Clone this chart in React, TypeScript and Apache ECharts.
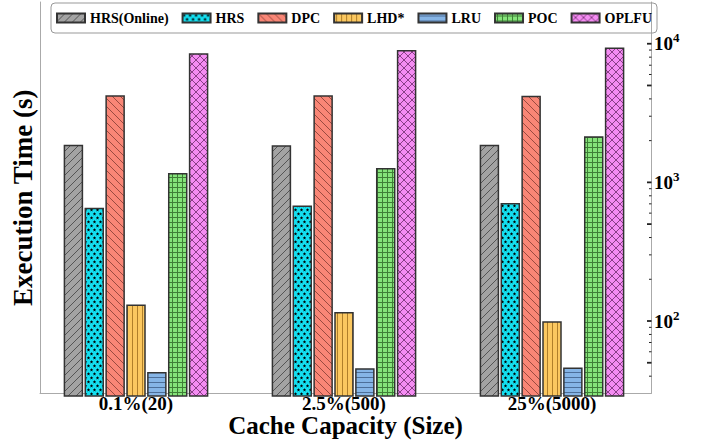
import React, { useEffect, useRef } from 'react';
import * as echarts from 'echarts';

const categories = ['0.1%(20)', '2.5%(500)', '25%(5000)'];
const seriesNames = ['HRS(Online)', 'HRS', 'DPC', 'LHD*', 'LRU', 'POC', 'OPLFU'];
const hrsOnline = [1900, 1880, 1900];
const hrs = [670, 695, 725];
const dpc = [4300, 4300, 4250];
const lhd = [136, 120, 103];
const lru = [44.5, 47.5, 48];
const poc = [1190, 1290, 2180];
const oplfu = [8600, 9050, 9450];
const yMin = 30;
const yMax = 20000;
const majorTicks = [100, 1000, 10000];
const minorTicks = [40, 50, 60, 70, 80, 90, 200, 300, 400, 500, 600, 700, 800, 900, 2000, 3000, 4000, 5000, 6000, 7000, 8000, 9000];

const FONT = '"Liberation Serif", "Times New Roman", serif';

type Draw = (ctx: CanvasRenderingContext2D, w: number, h: number) => void;

function makeTile(w: number, h: number, bg: string, draw: Draw) {
  const c = document.createElement('canvas');
  c.width = w;
  c.height = h;
  const ctx = c.getContext('2d') as CanvasRenderingContext2D;
  ctx.fillStyle = bg;
  ctx.fillRect(0, 0, w, h);
  draw(ctx, w, h);
  return { image: c.toDataURL(), repeat: 'repeat', imageWidth: w, imageHeight: h };
}

function lines(color: string, segs: number[][], lw = 1): Draw {
  return (ctx) => {
    ctx.strokeStyle = color;
    ctx.lineWidth = lw;
    ctx.beginPath();
    segs.forEach(([x1, y1, x2, y2]) => {
      ctx.moveTo(x1, y1);
      ctx.lineTo(x2, y2);
    });
    ctx.stroke();
  };
}

function starAt(ctx: CanvasRenderingContext2D, cx: number, cy: number, R: number, r: number) {
  ctx.beginPath();
  for (let i = 0; i < 10; i++) {
    const ang = -Math.PI / 2 + (i * Math.PI) / 5;
    const rad = i % 2 === 0 ? R : r;
    const x = cx + rad * Math.cos(ang);
    const y = cy + rad * Math.sin(ang);
    if (i === 0) ctx.moveTo(x, y);
    else ctx.lineTo(x, y);
  }
  ctx.closePath();
  ctx.fill();
}

function buildPatterns() {
  const s = 8;
  const slash = [[-s, s, 0, 0], [0, s, s, 0], [s, s, 2 * s, 0]];
  const back = [[-s, 0, 0, s], [0, 0, s, s], [s, 0, 2 * s, s]];
  return [
    makeTile(s, s, '#a3a3a3', lines('#555555', slash)),
    makeTile(6, 8, '#14dff0', (ctx) => {
      ctx.fillStyle = '#000000';
      starAt(ctx, 1.5, 2, 1.9, 0.8);
      starAt(ctx, 4.5, 6, 1.9, 0.8);
    }),
    makeTile(s, s, '#f98676', lines('#9a4a40', back)),
    makeTile(5, 5, '#fbc860', lines('#b07f2a', [[2.5, 0, 2.5, 5]])),
    makeTile(5, 5, '#86b5e6', lines('#4d6f99', [[0, 2.5, 5, 2.5]])),
    makeTile(5, 5, '#85e47a', lines('#3f7f37', [[2.5, 0, 2.5, 5], [0, 2.5, 5, 2.5]])),
    makeTile(s, s, '#f48cf2', lines('#8a3f88', [...slash, ...back])),
  ];
}

export default function App() {
  const ref = useRef<HTMLDivElement>(null);
  useEffect(() => {
    if (!ref.current) return;
    const chart = echarts.init(ref.current, null, { renderer: 'svg' });
    const patterns = buildPatterns();
    const values = [hrsOnline, hrs, dpc, lhd, lru, poc, oplfu];
    const top = 2;
    const bottom = 47;

    const tickData = [
      ...majorTicks.map((v) => [1, v, 4, 1.8]),
      ...minorTicks.map((v) => (String(v)[0] === '5' ? [1, v, 4, 1.8] : [1, v, 2, 1])),
    ];

    const option: any = {
      animation: false,
      backgroundColor: '#ffffff',
      textStyle: { fontFamily: FONT },
      legend: {
        data: seriesNames,
        left: 51,
        top: 3,
        itemWidth: 28,
        itemHeight: 9,
        itemGap: 13,
        padding: [7, 5, 7, 5],
        borderColor: '#999999',
        borderWidth: 1,
        borderRadius: 4,
        icon: 'rect',
        textStyle: { fontFamily: FONT, fontWeight: 'bold', fontSize: 14, color: '#000', lineHeight: 16 },
      },
      grid: [
        { left: 32, right: 50, top, bottom },
        { left: 40, right: 55, top, bottom },
      ],
      xAxis: [
        {
          type: 'category',
          gridIndex: 0,
          data: categories,
          axisLine: { show: false },
          axisTick: { show: false },
          axisLabel: { fontFamily: FONT, fontWeight: 'bold', fontSize: 19, lineHeight: 17, color: '#000', margin: -1 },
        },
        {
          type: 'value',
          gridIndex: 1,
          min: 0,
          max: 1,
          axisLine: { show: true, onZero: false, lineStyle: { color: '#aaaaaa', width: 1 } },
          axisTick: { show: false },
          axisLabel: { show: false },
          splitLine: { show: false },
          name: 'Cache Capacity (Size)',
          nameLocation: 'middle',
          nameGap: 21,
          nameTextStyle: { fontFamily: FONT, fontWeight: 'bold', fontSize: 25, lineHeight: 22, color: '#000' },
        },
      ],
      yAxis: [
        {
          type: 'log',
          gridIndex: 0,
          min: yMin,
          max: yMax,
          show: false,
        },
        {
          type: 'value',
          gridIndex: 1,
          position: 'left',
          min: 0,
          max: 1,
          axisLine: { show: true, onZero: false, lineStyle: { color: '#aaaaaa', width: 1 } },
          axisTick: { show: false },
          axisLabel: { show: false },
          splitLine: { show: false },
          name: 'Execution Time (s)',
          nameLocation: 'middle',
          nameGap: 5,
          nameTextStyle: { fontFamily: FONT, fontWeight: 'bold', fontSize: 27, lineHeight: 24, color: '#000' },
        },
        {
          type: 'log',
          gridIndex: 1,
          position: 'right',
          min: yMin,
          max: yMax,
          axisLine: { show: true, onZero: false, lineStyle: { color: '#aaaaaa', width: 1 } },
          axisTick: { show: false },
          splitLine: { show: false },
          axisLabel: {
            margin: 3,
            formatter: (v: number) => {
              const e = Math.log10(v);
              const r = Math.round(e);
              if (Math.abs(e - r) > 1e-6) return '';
              return `{b|10}{s|${r}}`;
            },
            rich: {
              b: { fontFamily: FONT, fontWeight: 'bold', fontSize: 19, color: '#000', lineHeight: 19, verticalAlign: 'bottom' },
              s: { fontFamily: FONT, fontWeight: 'bold', fontSize: 13, color: '#000', lineHeight: 13, padding: [0, 0, 9, 0], verticalAlign: 'bottom' },
            },
          },
        },
      ],
      series: [
        ...seriesNames.map((name, i) => ({
          name,
          type: 'bar',
          xAxisIndex: 0,
          yAxisIndex: 0,
          data: values[i],
          barWidth: 19.5,
          barGap: '7%',
          itemStyle: { color: patterns[i], borderColor: '#333333', borderWidth: 1.5 },
        })),
        {
          type: 'custom',
          name: 'ticks',
          xAxisIndex: 1,
          yAxisIndex: 2,
          silent: true,
          clip: false,
          data: tickData,
          renderItem: (_p: any, api: any) => {
            const pt = api.coord([api.value(0), api.value(1)]);
            const len = api.value(2);
            return {
              type: 'line',
              shape: { x1: pt[0] - len, y1: pt[1], x2: pt[0] + 0.5, y2: pt[1] },
              style: { stroke: '#222222', lineWidth: api.value(3) },
            };
          },
        },
      ],
    };
    chart.setOption(option);
    return () => chart.dispose();
  }, []);
  return (
    <div
      ref={ref}
      style={{ position: 'fixed', left: 0, top: 0, width: 706, height: 443, background: '#fff' }}
    />
  );
}
